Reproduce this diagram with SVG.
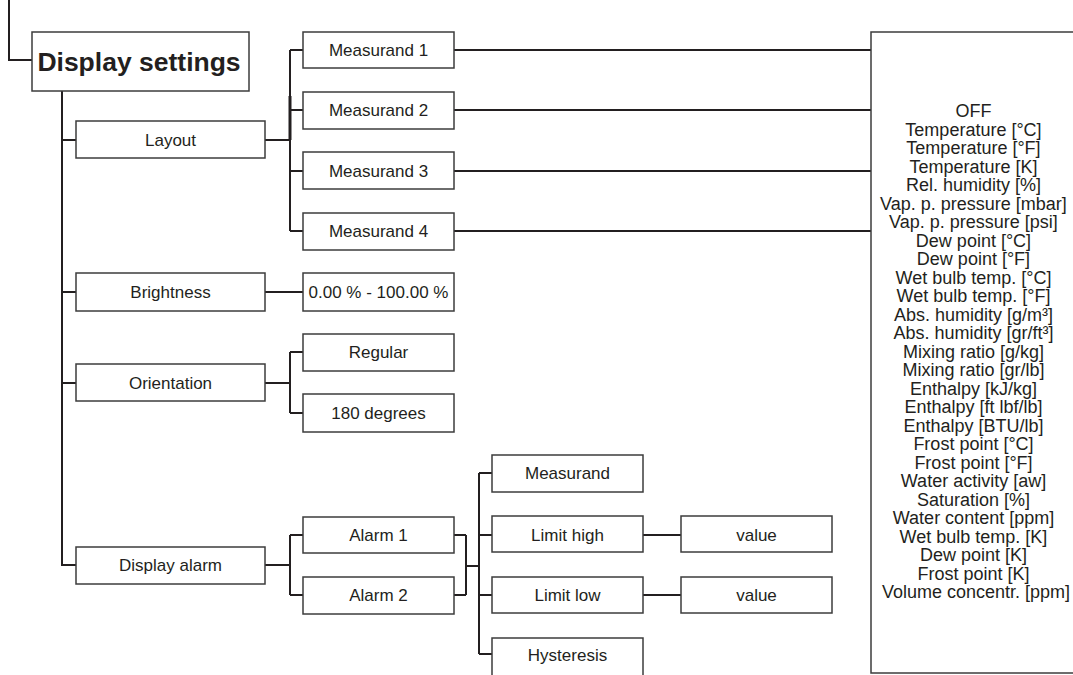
<svg xmlns="http://www.w3.org/2000/svg" width="1073" height="675" viewBox="0 0 1073 675">
<style>
.box{fill:#fff;stroke:#3c3c3c;stroke-width:1.5}
.lbl{font-family:"Liberation Sans",Arial,sans-serif;font-size:17px;fill:#231f20;text-anchor:middle}
.list{font-family:"Liberation Sans",Arial,sans-serif;font-size:18px;fill:#231f20;text-anchor:middle}
.title{font-family:"Liberation Sans",Arial,sans-serif;font-size:26.5px;font-weight:bold;fill:#231f20;text-anchor:middle}
.con{fill:none;stroke:#231f20;stroke-width:2}
</style>
<rect width="1073" height="675" fill="#fff"/>
<g id="connectors" class="con">
<path d="M9,0 V60 H32"/>
<path d="M62,91 V565 H76"/>
<path d="M62,140 H76 M62,292 H76 M62,383 H76"/>
<path d="M265,140 H290 M290,50 V231 M290,50 H303 M290,110 H303 M290,171 H303 M290,231 H303"/>
<path d="M290,96 V140" stroke-width="3"/>
<path d="M454,50 H871 M454,110 H871 M454,171 H871 M454,231 H871"/>
<path d="M265,292 H303"/>
<path d="M265,383 H290 M290,352 V413 M290,352 H303 M290,413 H303"/>
<path d="M265,565 H290 M290,535 V595 M290,535 H303 M290,595 H303"/>
<path d="M454,535 H466 M454,595 H466 M466,535 V595 M466,566 H479 M479,473 V654 M479,473 H492 M479,535 H492 M479,595 H492 M479,654 H492"/>
<path d="M643,535 H681 M643,595 H681"/>
</g>
<g id="display-settings"><rect class="box" x="32" y="32" width="217" height="59"/><text class="title" x="139" y="71">Display settings</text></g>
<g id="layout"><rect class="box" x="76" y="121" width="189" height="37"/><text class="lbl" x="170.5" y="146">Layout</text></g>
<g id="brightness"><rect class="box" x="76" y="273" width="189" height="38"/><text class="lbl" x="170.5" y="298">Brightness</text></g>
<g id="orientation"><rect class="box" x="76" y="364" width="189" height="37"/><text class="lbl" x="170.5" y="389">Orientation</text></g>
<g id="display-alarm"><rect class="box" x="76" y="547" width="189" height="37"/><text class="lbl" x="170.5" y="571">Display alarm</text></g>
<g id="measurand1"><rect class="box" x="303" y="32" width="151" height="36"/><text class="lbl" x="378.5" y="56">Measurand 1</text></g>
<g id="measurand2"><rect class="box" x="303" y="92" width="151" height="37"/><text class="lbl" x="378.5" y="116">Measurand 2</text></g>
<g id="measurand3"><rect class="box" x="303" y="152" width="151" height="37"/><text class="lbl" x="378.5" y="177">Measurand 3</text></g>
<g id="measurand4"><rect class="box" x="303" y="213" width="151" height="37"/><text class="lbl" x="378.5" y="237">Measurand 4</text></g>
<g id="range"><rect class="box" x="303" y="273" width="151" height="38"/><text class="lbl" x="378.5" y="298">0.00 % - 100.00 %</text></g>
<g id="regular"><rect class="box" x="303" y="334" width="151" height="37"/><text class="lbl" x="378.5" y="358">Regular</text></g>
<g id="deg180"><rect class="box" x="303" y="394" width="151" height="38"/><text class="lbl" x="378.5" y="419">180 degrees</text></g>
<g id="alarm1"><rect class="box" x="303" y="517" width="151" height="36"/><text class="lbl" x="378.5" y="541">Alarm 1</text></g>
<g id="alarm2"><rect class="box" x="303" y="577" width="151" height="37"/><text class="lbl" x="378.5" y="601">Alarm 2</text></g>
<g id="measurand"><rect class="box" x="492" y="455" width="151" height="37"/><text class="lbl" x="567.5" y="479">Measurand</text></g>
<g id="limit-high"><rect class="box" x="492" y="516" width="151" height="36"/><text class="lbl" x="567.5" y="541">Limit high</text></g>
<g id="limit-low"><rect class="box" x="492" y="577" width="151" height="36"/><text class="lbl" x="567.5" y="601">Limit low</text></g>
<g id="hysteresis"><rect class="box" x="492" y="638" width="151" height="40"/><text class="lbl" x="567.5" y="661">Hysteresis</text></g>
<g id="value-high"><rect class="box" x="681" y="516" width="151" height="36"/><text class="lbl" x="756.5" y="541">value</text></g>
<g id="value-low"><rect class="box" x="681" y="577" width="151" height="36"/><text class="lbl" x="756.5" y="601">value</text></g>
<g id="options">
<rect class="box" x="871" y="32" width="220" height="641"/>
<text class="list" x="976">
<tspan x="976" y="117">OFF</tspan>
<tspan x="976" y="135.5">Temperature [°C]</tspan>
<tspan x="976" y="154">Temperature [°F]</tspan>
<tspan x="976" y="172.5">Temperature [K]</tspan>
<tspan x="976" y="191">Rel. humidity [%]</tspan>
<tspan x="976" y="209.5">Vap. p. pressure [mbar]</tspan>
<tspan x="976" y="228">Vap. p. pressure [psi]</tspan>
<tspan x="976" y="246.5">Dew point [°C]</tspan>
<tspan x="976" y="265">Dew point [°F]</tspan>
<tspan x="976" y="283.5">Wet bulb temp. [°C]</tspan>
<tspan x="976" y="302">Wet bulb temp. [°F]</tspan>
<tspan x="976" y="320.5">Abs. humidity [g/m³]</tspan>
<tspan x="976" y="339">Abs. humidity [gr/ft³]</tspan>
<tspan x="976" y="357.5">Mixing ratio [g/kg]</tspan>
<tspan x="976" y="376">Mixing ratio [gr/lb]</tspan>
<tspan x="976" y="394.5">Enthalpy [kJ/kg]</tspan>
<tspan x="976" y="413">Enthalpy [ft lbf/lb]</tspan>
<tspan x="976" y="431.5">Enthalpy [BTU/lb]</tspan>
<tspan x="976" y="450">Frost point [°C]</tspan>
<tspan x="976" y="468.5">Frost point [°F]</tspan>
<tspan x="976" y="487">Water activity [aw]</tspan>
<tspan x="976" y="505.5">Saturation [%]</tspan>
<tspan x="976" y="524">Water content [ppm]</tspan>
<tspan x="976" y="542.5">Wet bulb temp. [K]</tspan>
<tspan x="976" y="561">Dew point [K]</tspan>
<tspan x="976" y="579.5">Frost point [K]</tspan>
<tspan x="976" y="598">Volume concentr. [ppm]</tspan>
</text>
</g>
</svg>
